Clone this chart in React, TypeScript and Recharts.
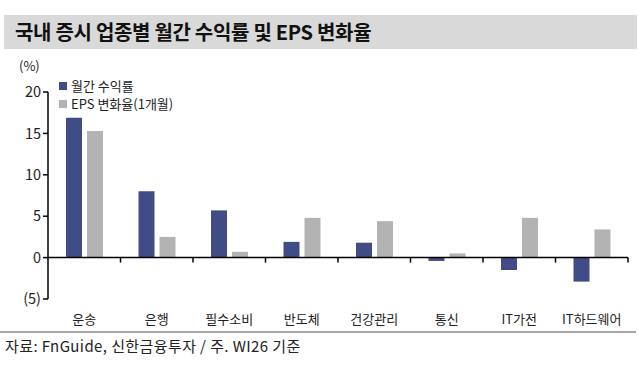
import React from 'react';
import { BarChart, Bar, XAxis, YAxis, ReferenceLine } from 'recharts';

const categories = ['운송', '은행', '필수소비', '반도체', '건강관리', '통신', 'IT가전', 'IT하드웨어'];
const monthlyReturn = [16.9, 8.0, 5.7, 1.9, 1.8, -0.4, -1.5, -2.9];
const epsChange = [15.3, 2.5, 0.7, 4.8, 4.4, 0.5, 4.8, 3.4];
const yTicks = [-5, 0, 5, 10, 15, 20];

const data = categories.map((name, i) => ({ name, ret: monthlyReturn[i], eps: epsChange[i] }));

const FONT = '"Noto Sans CJK KR", "Noto Sans", sans-serif';
const BLUE = '#3F4C85';
const GRAY = '#B3B3B3';

const ZeroLine = (props: any) => {
  const { x1, x2, y1 } = props;
  const n = categories.length;
  const step = (x2 - x1) / n;
  const ticks = [];
  for (let i = 1; i <= n; i++) {
    const x = x1 + step * i;
    ticks.push(<line key={i} x1={x} x2={x} y1={y1} y2={y1 + 5} stroke="#000" strokeWidth={1.5} />);
  }
  return (
    <g>
      <line x1={x1} x2={x2} y1={y1} y2={y1} stroke="#000" strokeWidth={1.5} />
      {ticks}
    </g>
  );
};

export default function App() {
  return (
    <div style={{ position: 'fixed', left: 0, top: 0, width: 639, height: 369, background: '#fff', fontFamily: FONT }}>
      <div style={{ position: 'absolute', left: 4, top: 15, width: 633, height: 34, background: '#D9D9D9' }} />
      <div style={{ position: 'absolute', left: 15, top: 15, height: 34, lineHeight: '34px', fontSize: 20, fontWeight: 700, color: '#111', letterSpacing: -0.3 }}>
        국내 증시 업종별 월간 수익률 및 EPS 변화율
      </div>
      <div style={{ position: 'absolute', left: 19, top: 57, fontSize: 13, color: '#222', lineHeight: '18px' }}>(%)</div>
      <div style={{ position: 'absolute', left: 59, top: 77, fontSize: 13, color: '#222', lineHeight: '18px', display: 'flex', alignItems: 'center' }}>
        <span style={{ display: 'inline-block', width: 8, height: 8, background: BLUE, marginRight: 4 }} />월간 수익률
      </div>
      <div style={{ position: 'absolute', left: 59, top: 95, fontSize: 13, color: '#222', lineHeight: '18px', display: 'flex', alignItems: 'center' }}>
        <span style={{ display: 'inline-block', width: 8, height: 8, background: GRAY, marginRight: 4 }} />EPS 변화율(1개월)
      </div>
      <div style={{ position: 'absolute', left: 0, top: 0 }}>
        <BarChart width={639} height={369} data={data} margin={{ top: 92, right: 11, bottom: 40, left: 0 }} barSize={16} barGap={5}>
          <YAxis
            domain={[-5, 20]}
            ticks={yTicks}
            width={48}
            axisLine={{ stroke: '#000', strokeWidth: 1.5 }}
            tickLine={{ stroke: '#000', strokeWidth: 1.5 }}
            tickSize={5}
            tickFormatter={(v: number) => (v < 0 ? `(${Math.abs(v)})` : `${v}`)}
            tick={{ fontSize: 14.5, fill: '#222', fontFamily: FONT }}
            interval={0}
          />
          <XAxis
            dataKey="name"
            height={30}
            axisLine={false}
            tickLine={false}
            interval={0}
            tickMargin={10}
            tick={{ fontSize: 13, fill: '#222', fontFamily: FONT }}
          />
          <Bar dataKey="ret" fill={BLUE} isAnimationActive={false} />
          <Bar dataKey="eps" fill={GRAY} isAnimationActive={false} />
          <ReferenceLine y={0} shape={ZeroLine} ifOverflow="extendDomain" />
        </BarChart>
      </div>
      <div style={{ position: 'absolute', left: 0, top: 331, width: 636, height: 2, background: '#A6A6A6' }} />
      <div style={{ position: 'absolute', left: 5, top: 335, fontSize: 15, color: '#222', lineHeight: '22px', letterSpacing: 0.4 }}>
        자료: FnGuide, 신한금융투자 / 주. WI26 기준
      </div>
    </div>
  );
}
